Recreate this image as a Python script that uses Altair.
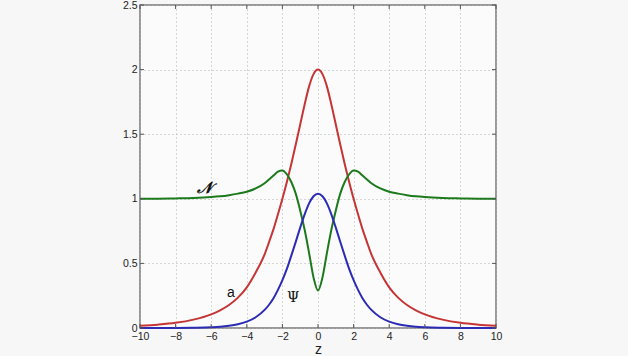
import altair as alt
import pandas as pd

# sample positions (z) and readings of each curve
z_vals = [-10, -9, -8, -7, -6, -5.5, -5, -4.5, -4, -3.5, -3, -2.75, -2.5, -2.25, -2, -1.75, -1.5, -1.25, -1, -0.75, -0.5, -0.25,
          0, 0.25, 0.5, 0.75, 1, 1.25, 1.5, 1.75, 2, 2.25, 2.5, 2.75, 3, 3.5, 4, 4.5, 5, 5.5, 6, 7, 8, 9, 10]

a_vals = [0.017, 0.026, 0.04, 0.065, 0.106, 0.137, 0.178, 0.235, 0.315, 0.43, 0.57, 0.665, 0.765, 0.88, 1.0, 1.13, 1.27, 1.42, 1.575, 1.73, 1.87, 1.965,
          2.0, 1.965, 1.87, 1.73, 1.575, 1.42, 1.27, 1.13, 1.0, 0.88, 0.765, 0.665, 0.57, 0.43, 0.315, 0.235, 0.178, 0.137, 0.106, 0.065, 0.04, 0.026, 0.017]

n_vals = [1.0, 1.001, 1.003, 1.006, 1.013, 1.019, 1.028, 1.04, 1.055, 1.08, 1.12, 1.15, 1.18, 1.21, 1.22, 1.19, 1.13, 1.04, 0.91, 0.76, 0.58, 0.39,
          0.29, 0.39, 0.58, 0.76, 0.91, 1.04, 1.13, 1.19, 1.22, 1.21, 1.18, 1.15, 1.12, 1.08, 1.055, 1.04, 1.028, 1.019, 1.013, 1.006, 1.003, 1.001, 1.0]

psi_vals = [0.0001, 0.0002, 0.0006, 0.002, 0.0055, 0.0095, 0.017, 0.029, 0.049, 0.083, 0.14, 0.18, 0.23, 0.295, 0.37, 0.457, 0.56, 0.667, 0.777, 0.88, 0.965, 1.02,
            1.04, 1.02, 0.965, 0.88, 0.777, 0.667, 0.56, 0.457, 0.37, 0.295, 0.23, 0.18, 0.14, 0.083, 0.049, 0.029, 0.017, 0.0095, 0.0055, 0.002, 0.0006, 0.0002, 0.0001]

series_names = ["a", "N", "Psi"]
series_colors = ["#c53535", "#1c7a1c", "#2b2bb5"]

x_ticks = [-10, -8, -6, -4, -2, 0, 2, 4, 6, 8, 10]
y_ticks = [0, 0.5, 1, 1.5, 2, 2.5]

label_text = ["𝒩", "a", "Ψ"]
label_z = [-6.4, -4.9, -1.4]
label_v = [1.08, 0.27, 0.23]
label_font = ["DejaVu Serif", "Liberation Sans", "DejaVu Serif"]
label_size = [16, 14, 14]

rows = []
for name, vals in zip(series_names, [a_vals, n_vals, psi_vals]):
    for z, v in zip(z_vals, vals):
        rows.append({"z": z, "v": v, "s": name})
df = pd.DataFrame(rows)

W, H = 356, 323
xs = alt.Scale(domain=[-10, 10], nice=False, zero=False)
ys = alt.Scale(domain=[0, 2.5], nice=False, zero=False)

x_axis = alt.Axis(values=x_ticks, ticks=False, domain=False, grid=True,
                  gridDash=[1, 3], gridColor="#b0b0b0", gridOpacity=1,
                  labelFont="Liberation Sans", labelFontSize=10.5, labelColor="#222",
                  labelPadding=3, labelOverlap=False, labelFlush=False, format="d",
                  titleFont="Liberation Sans", titleFontSize=14,
                  titleFontWeight="normal", titleColor="#222",
                  titleY=25, titleBaseline="alphabetic")
y_axis = alt.Axis(values=y_ticks, ticks=False, domain=False, grid=True,
                  gridDash=[1, 3], gridColor="#b0b0b0", gridOpacity=1,
                  labelFont="Liberation Sans", labelFontSize=10.5, labelColor="#222",
                  labelPadding=3, labelOverlap=False, labelFlush=False, format="~g")

lines = alt.Chart(df).mark_line(strokeWidth=2, interpolate="monotone").encode(
    x=alt.X("z:Q", scale=xs, title="z", axis=x_axis),
    y=alt.Y("v:Q", scale=ys, title=None, axis=y_axis),
    color=alt.Color("s:N", scale=alt.Scale(domain=series_names, range=series_colors), legend=None),
    detail="s:N",
)

xt = pd.DataFrame({"t": x_ticks})
yt = pd.DataFrame({"t": y_ticks})
tick_color = "#555"
xb = alt.Chart(xt).mark_rule(color=tick_color).encode(
    x=alt.X("t:Q", scale=xs, title="z", axis=x_axis), y=alt.value(H), y2=alt.value(H - 4))
xtop = alt.Chart(xt).mark_rule(color=tick_color).encode(
    x=alt.X("t:Q", scale=xs, title="z", axis=x_axis), y=alt.value(0), y2=alt.value(4))
yl = alt.Chart(yt).mark_rule(color=tick_color).encode(
    y=alt.Y("t:Q", scale=ys, title=None, axis=y_axis), x=alt.value(0), x2=alt.value(4))
yr = alt.Chart(yt).mark_rule(color=tick_color).encode(
    y=alt.Y("t:Q", scale=ys, title=None, axis=y_axis), x=alt.value(W), x2=alt.value(W - 4))

lab_df = pd.DataFrame({"txt": label_text, "z": label_z, "v": label_v})
labels = []
for i in range(len(label_text)):
    sub = lab_df.iloc[[i]]
    labels.append(alt.Chart(sub).mark_text(font=label_font[i], fontSize=label_size[i],
                                           fontStyle="italic" if i == 0 else "normal",
                                           fontWeight="bold" if i == 0 else "normal",
                                           color="#111").encode(
        x=alt.X("z:Q", scale=xs, title="z", axis=x_axis),
        y=alt.Y("v:Q", scale=ys, title=None, axis=y_axis), text="txt:N"))

chart = alt.layer(lines, xb, xtop, yl, yr, *labels).properties(
    width=W, height=H,
    autosize=alt.AutoSizeParams(type="none"),
    padding={"left": 140, "top": 5, "right": 132, "bottom": 28},
    background="#f7f7f7",
).configure_view(stroke="#7a7a7a", strokeWidth=1.5, fill="#fbfbfb")

chart.save("out.html", embed_options={"renderer": "svg", "actions": False})
